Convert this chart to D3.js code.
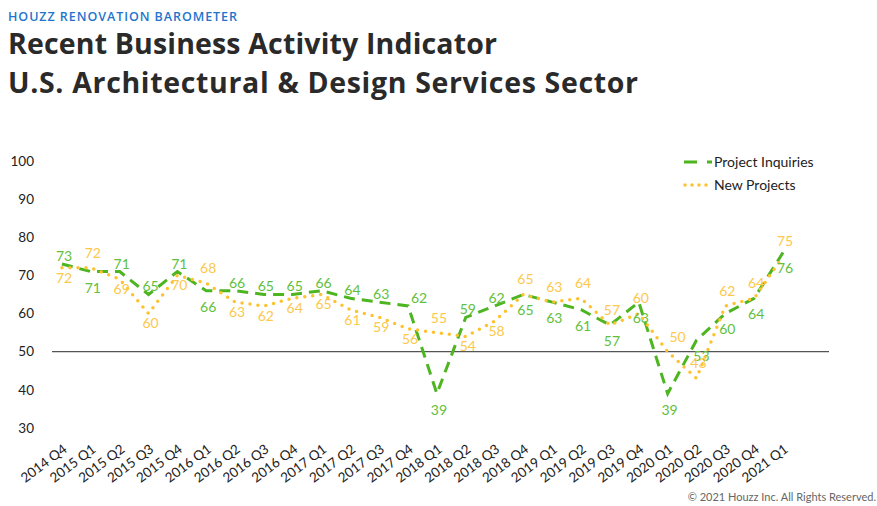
<!DOCTYPE html>
<html>
<head>
<meta charset="utf-8">
<script src="https://cdn.jsdelivr.net/npm/d3@7"></script>
<style>
  body { margin: 0; background: #fff; }
  svg { display: block; font-family: Lato, "Open Sans", sans-serif; }
  .head { font-family: "Open Sans", Lato, sans-serif; }
</style>
</head>
<body>
<svg id="chart" width="877" height="506"></svg>
<script>
// quarters along the x axis
const quarters = ["2014 Q4", "2015 Q1", "2015 Q2", "2015 Q3", "2015 Q4", "2016 Q1", "2016 Q2", "2016 Q3",
    "2016 Q4", "2017 Q1", "2017 Q2", "2017 Q3", "2017 Q4", "2018 Q1", "2018 Q2", "2018 Q3", "2018 Q4",
    "2019 Q1", "2019 Q2", "2019 Q3", "2019 Q4", "2020 Q1", "2020 Q2", "2020 Q3", "2020 Q4", "2021 Q1"];

const projectInquiries = [73, 71, 71, 65, 71, 66, 66, 65, 65, 66, 64, 63, 62, 39, 59, 62, 65, 63, 61, 57, 63, 39, 53, 60, 64, 76];
const newProjects = [72, 72, 69, 60, 70, 68, 63, 62, 64, 65, 61, 59, 56, 55, 54, 58, 65, 63, 64, 57, 60, 50, 43, 62, 64, 75];

const yTicks = [30, 40, 50, 60, 70, 80, 90, 100];

// which side of the point each value label sits on (a = above, b = below)
const inquiriesLabelSide = "abaaabaaaaaaabaabbbbbbbbbb".split("");
const newLabelSide = "babbbabbbbbbbabbaaaaaaaaaa".split("");
// a few labels are pushed sideways in the original
const inquiriesNudge = { 12: 9, 22: 3 };
const newNudge = { 21: 8 };

const green = "#4db51f", greenText = "#62c03c";
const yellow = "#fec230", yellowText = "#fdc84c";

const svg = d3.select("#chart");

// header
svg.append("text").attr("class", "head").attr("x", 8).attr("y", 20.5)
    .attr("fill", "#1f74cc").attr("font-size", 12.5).attr("font-weight", 600)
    .attr("textLength", 229).attr("lengthAdjust", "spacing")
    .text("HOUZZ RENOVATION BAROMETER");
svg.append("text").attr("class", "head").attr("x", 8).attr("y", 54)
    .attr("fill", "#2a2a2a").attr("font-size", 28.5).attr("font-weight", 700)
    .attr("textLength", 489).attr("lengthAdjust", "spacing")
    .text("Recent Business Activity Indicator");
svg.append("text").attr("class", "head").attr("x", 8).attr("y", 93)
    .attr("fill", "#2a2a2a").attr("font-size", 28.5).attr("font-weight", 700)
    .attr("textLength", 630).attr("lengthAdjust", "spacing")
    .text("U.S. Architectural & Design Services Sector");

const x = d3.scalePoint().domain(quarters).range([62, 783]);
const y = d3.scaleLinear().domain([30, 100]).range([428, 161]);

// y tick labels, no axis line
svg.append("g").selectAll("text").data(yTicks).join("text")
    .attr("x", 34).attr("y", d => y(d)).attr("dy", "0.35em")
    .attr("text-anchor", "end").attr("font-size", 13.5).attr("fill", "#222")
    .text(d => d);

// reference line at 50
svg.append("line")
    .attr("x1", 52).attr("x2", 829).attr("y1", y(50)).attr("y2", y(50))
    .attr("stroke", "#555").attr("stroke-width", 1.3);

// x tick labels, rotated
svg.append("g").selectAll("text").data(quarters).join("text")
    .attr("transform", d => `translate(${x(d) + 6},${451}) rotate(-37)`)
    .attr("text-anchor", "end").attr("font-size", 13.5).attr("fill", "#222")
    .text(d => d);

const line = d3.line().x((d, i) => x(quarters[i])).y(d => y(d));

svg.append("path").datum(projectInquiries)
    .attr("d", line).attr("fill", "none")
    .attr("stroke", green).attr("stroke-width", 3)
    .attr("stroke-dasharray", "11,7");

svg.append("path").datum(newProjects)
    .attr("d", line).attr("fill", "none")
    .attr("stroke", yellow).attr("stroke-width", 3.5)
    .attr("stroke-linecap", "round")
    .attr("stroke-dasharray", "0,8");

// value labels
svg.append("g").selectAll("text").data(projectInquiries).join("text")
    .attr("x", (d, i) => x(quarters[i]) + 2 + (inquiriesNudge[i] || 0))
    .attr("y", (d, i) => y(d) + (inquiriesLabelSide[i] === "a" ? -8 : 16))
    .attr("dy", "0.35em").attr("text-anchor", "middle")
    .attr("font-size", 14).attr("fill", greenText)
    .text(d => d);

svg.append("g").selectAll("text").data(newProjects).join("text")
    .attr("x", (d, i) => x(quarters[i]) + 2 + (newNudge[i] || 0))
    .attr("y", (d, i) => y(d) + (newLabelSide[i] === "a" ? -15 : 10))
    .attr("dy", "0.35em").attr("text-anchor", "middle")
    .attr("font-size", 14).attr("fill", yellowText)
    .text(d => d);

// legend
const legend = svg.append("g");
legend.append("line").attr("x1", 684).attr("x2", 712).attr("y1", 162).attr("y2", 162)
    .attr("stroke", green).attr("stroke-width", 3).attr("stroke-dasharray", "13,10");
legend.append("text").attr("x", 714).attr("y", 162).attr("dy", "0.35em")
    .attr("font-size", 14).attr("fill", "#222").text("Project Inquiries");
legend.append("line").attr("x1", 685).attr("x2", 712).attr("y1", 185).attr("y2", 185)
    .attr("stroke", yellow).attr("stroke-width", 3.5).attr("stroke-linecap", "round")
    .attr("stroke-dasharray", "0,7");
legend.append("text").attr("x", 714).attr("y", 185).attr("dy", "0.35em")
    .attr("font-size", 14).attr("fill", "#222").text("New Projects");

// footer
svg.append("text").attr("x", 876).attr("y", 501)
    .attr("text-anchor", "end").attr("font-size", 11).attr("fill", "#666")
    .text("© 2021 Houzz Inc. All Rights Reserved.");
</script>
</body>
</html>
